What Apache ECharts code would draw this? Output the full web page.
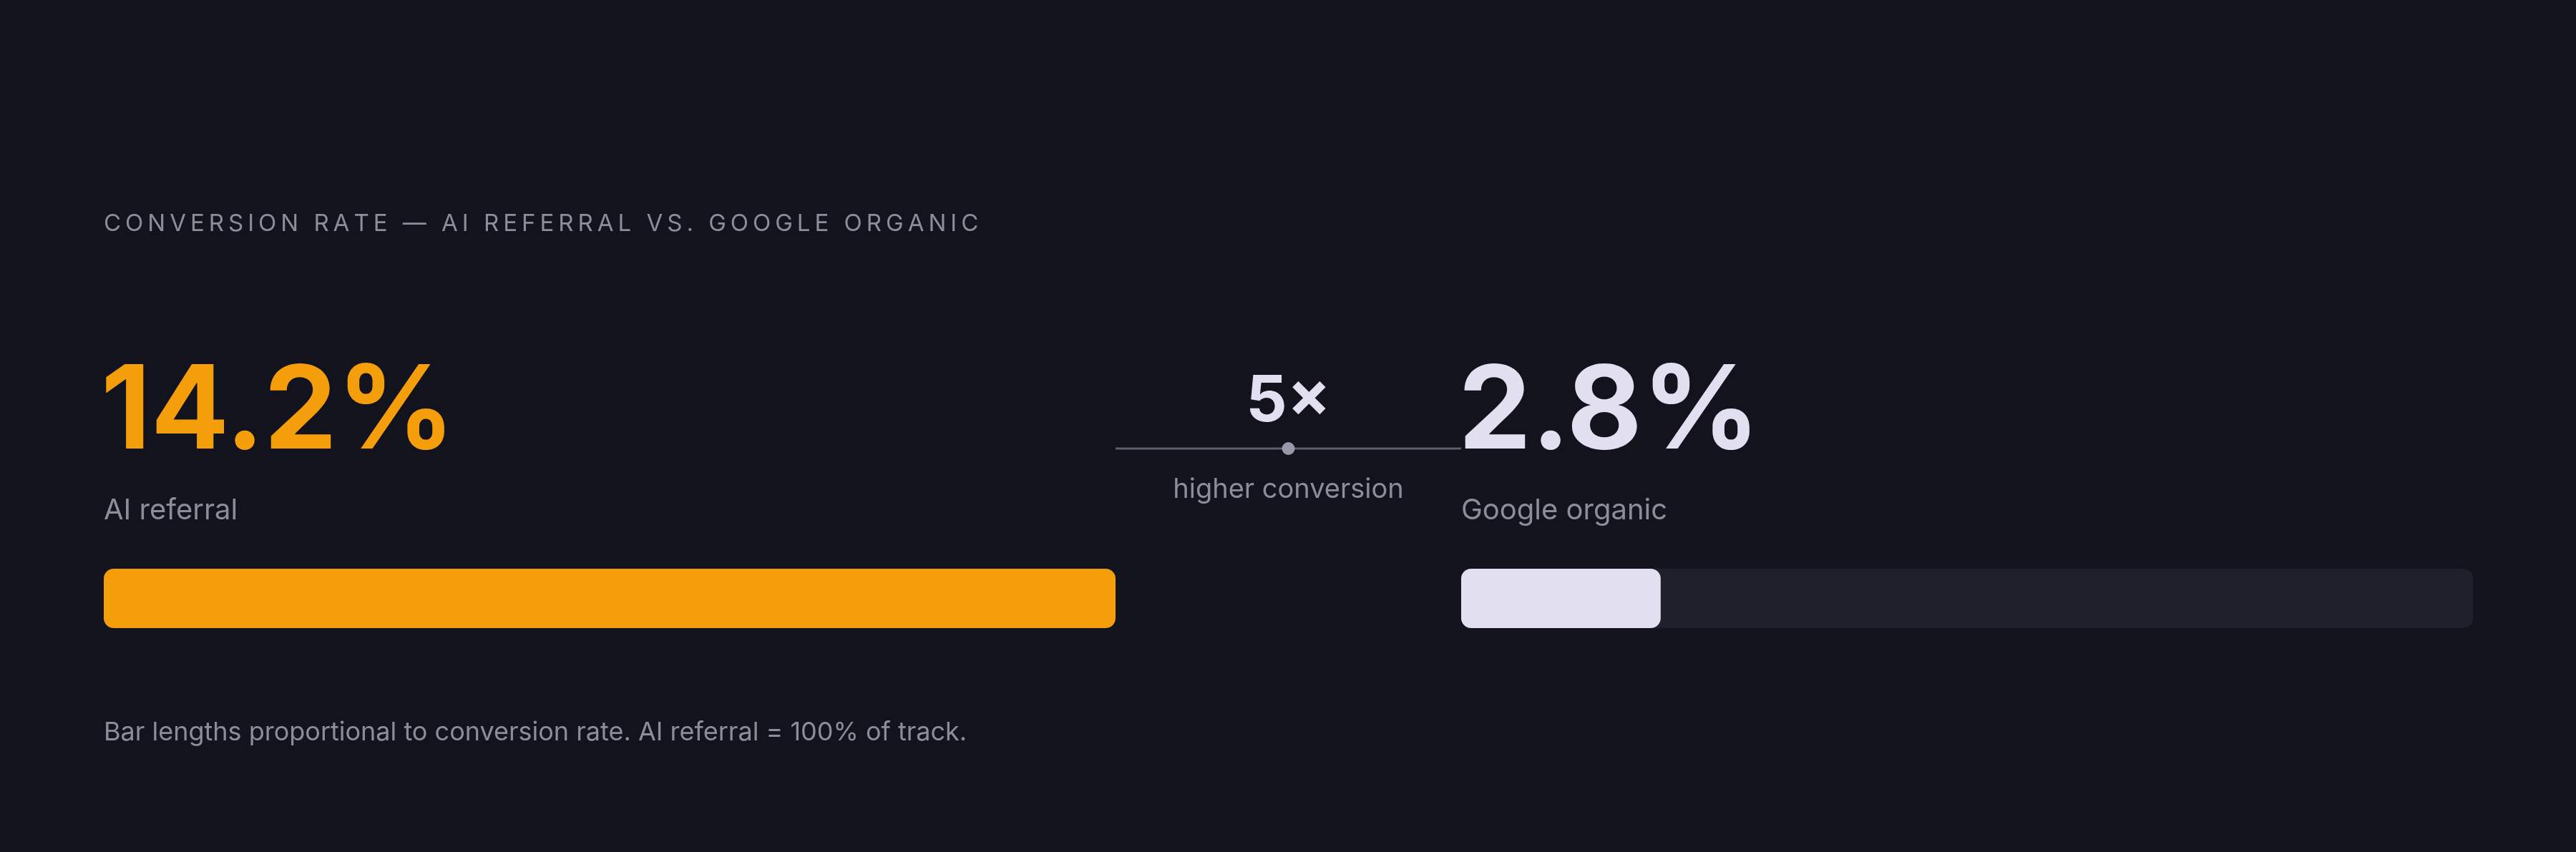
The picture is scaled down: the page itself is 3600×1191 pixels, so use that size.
<!DOCTYPE html>
<html>
<head>
<meta charset="utf-8">
<script src="https://cdn.jsdelivr.net/npm/echarts@6/dist/echarts.min.js"></script>
<style>
  html, body { margin: 0; padding: 0; background: #12131c; }
  #main { width: 3600px; height: 1191px; }
</style>
</head>
<body>
<div id="main"></div>
<script>
// data
var categories = ['AI referral', 'Google organic'];
var rates = [14.2, 2.8];
var title = 'CONVERSION RATE \u2014 AI REFERRAL VS. GOOGLE ORGANIC';
var multiplierCaption = 'higher conversion';
var footnote = 'Bar lengths proportional to conversion rate. AI referral = 100% of track.';

var FONT = 'Inter, "Noto Sans", sans-serif';
var ORANGE = '#f59e0b';
var LIGHT = '#e2e0f0';
var TRACK = '#201f2c';
var MUTED = '#8d8c9b';

var trackMax = rates[0]; // AI referral = 100% of track
var multiple = Math.round(rates[0] / rates[1]) + '\u00d7';

// widen the title with hair spaces (canvas text has no letter-spacing)
var spacedTitle = title.split('').join('\u200a\u200a');

var chart = echarts.init(document.getElementById('main'));

// panel geometry
var leftX = 145, rightX = 2042, trackW = 1414, barTop = 795, barH = 83;

function txt(text, x, y, size, weight, color, align) {
    return {
        type: 'text',
        x: x, y: y,
        style: {
            text: text,
            font: weight + ' ' + size + 'px ' + FONT,
            fill: color,
            textAlign: align || 'left',
            textVerticalAlign: 'middle'
        }
    };
}

var midX = (leftX + trackW + rightX) / 2;

var option = {
    backgroundColor: '#12131c',
    animation: false,
    grid: [
        { left: leftX, top: barTop, width: trackW, height: barH },
        { left: rightX, top: barTop, width: trackW, height: barH }
    ],
    xAxis: [
        { gridIndex: 0, type: 'value', min: 0, max: trackMax, show: false },
        { gridIndex: 1, type: 'value', min: 0, max: trackMax, show: false }
    ],
    yAxis: [
        { gridIndex: 0, type: 'category', data: [categories[0]], show: false },
        { gridIndex: 1, type: 'category', data: [categories[1]], show: false }
    ],
    series: [
        {
            type: 'bar', xAxisIndex: 0, yAxisIndex: 0,
            data: [rates[0]], barWidth: '100%',
            showBackground: true,
            backgroundStyle: { color: TRACK, borderRadius: 14 },
            itemStyle: { color: ORANGE, borderRadius: 14 }
        },
        {
            type: 'bar', xAxisIndex: 1, yAxisIndex: 1,
            data: [rates[1]], barWidth: '100%',
            showBackground: true,
            backgroundStyle: { color: TRACK, borderRadius: 14 },
            itemStyle: { color: LIGHT, borderRadius: 14 }
        }
    ],
    graphic: [
        txt(spacedTitle, leftX, 313, 33, 400, MUTED),
        txt(rates[0].toFixed(1) + '%', leftX - 4, 578, 162, 700, ORANGE),
        txt(categories[0], leftX, 714, 40, 400, MUTED),
        txt(rates[1].toFixed(1) + '%', rightX - 4, 578, 162, 700, LIGHT),
        txt(categories[1], rightX, 714, 40, 400, MUTED),
        txt(multiple, midX, 562, 90, 700, LIGHT, 'center'),
        txt(multiplierCaption, midX, 685, 38, 400, MUTED, 'center'),
        txt(footnote, leftX, 1024, 36, 400, MUTED),
        {
            type: 'line',
            shape: { x1: leftX + trackW, y1: 627, x2: rightX, y2: 627 },
            style: { stroke: '#5f5e6c', lineWidth: 3 }
        },
        {
            type: 'circle',
            shape: { cx: midX, cy: 627, r: 9 },
            style: { fill: '#9998a8' }
        }
    ]
};

chart.setOption(option);
</script>
</body>
</html>
